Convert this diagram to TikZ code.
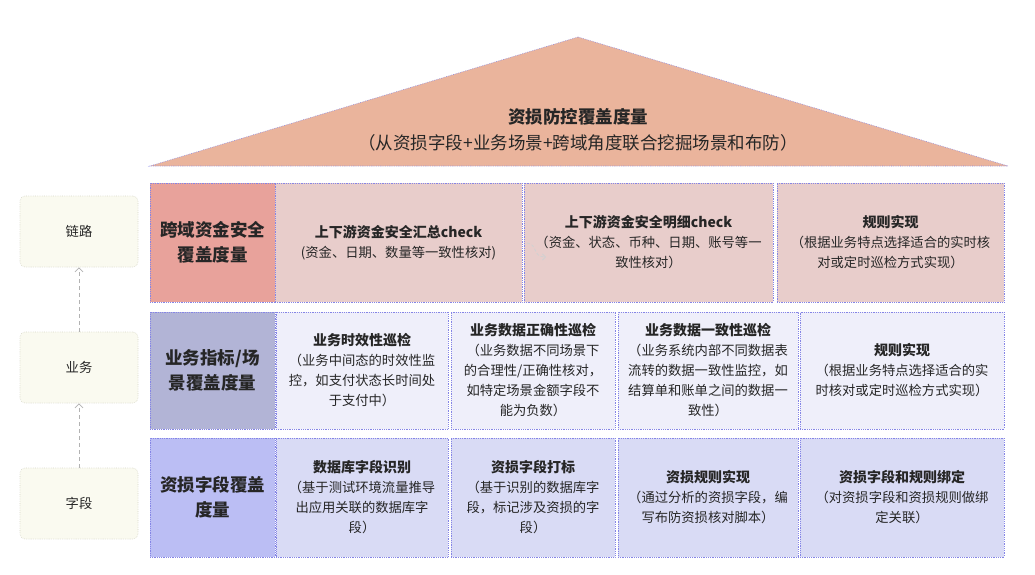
\documentclass[tikz,border=0pt]{standalone}
\usepackage{fontspec}
\setmainfont{Noto Sans CJK SC}
\usetikzlibrary{arrows.meta}
\definecolor{roof}{HTML}{EAB49C}
\definecolor{hA}{HTML}{E8A29B}
\definecolor{cA}{HTML}{E8CDCB}
\definecolor{hB}{HTML}{B2B4D6}
\definecolor{cB}{HTML}{EFEFFA}
\definecolor{hC}{HTML}{BBBEF4}
\definecolor{cC}{HTML}{D9DBF5}
\definecolor{bord}{HTML}{8585E6}
\definecolor{lbox}{HTML}{FAFAF0}
\definecolor{lbord}{HTML}{D6D6C6}
\definecolor{txt}{HTML}{262626}
\tikzset{
  cellbox/.style={draw=bord, line width=0.6pt, dash pattern=on 0.6pt off 1.2pt, inner sep=0pt, align=center, text=txt, font=\fontsize{13.3}{20}\selectfont},
  headbox/.style={cellbox, font=\fontsize{17.5}{25}\selectfont\bfseries},
  lvlbox/.style={draw=lbord, fill=lbox, line width=0.6pt, dash pattern=on 0.6pt off 1.2pt, rounded corners=5pt, minimum width=118pt, minimum height=71pt, text=txt, font=\fontsize{13.3}{16}\selectfont},
  uparrow/.style={draw=black!30, line width=0.8pt, dash pattern=on 4pt off 3pt, -{Straight Barb[length=4pt,width=8pt]}},
  faint/.style={draw=black!18, line width=0.8pt, dash pattern=on 3pt off 2pt, -{Straight Barb[length=3pt,width=6pt]}},
  roofline/.style={text=txt, font=\fontsize{17.5}{25}\selectfont}
}
\newcommand{\ttl}[1]{{\fontsize{14}{20}\selectfont\bfseries #1}}
\begin{document}
\begin{tikzpicture}[x=1pt,y=-1pt]
\useasboundingbox[fill=white] (0,0) rectangle (1035,575);
% roof
\draw[bord, line width=0.6pt, dash pattern=on 0.6pt off 1.2pt, fill=roof] (578,37) -- (1008,166) -- (150,166) -- cycle;
\node[roofline, font=\fontsize{17.5}{25}\selectfont\bfseries] (rooft) at (578,117) {资损防控覆盖度量};
\node[roofline] (roofs) at (578,143) {（从资损字段+业务场景+跨域角度联合挖掘场景和布防）};
% left level boxes
\node[lvlbox] (L1) at (79,231.5) {链路};
\node[lvlbox] (L2) at (79,367.5) {业务};
\node[lvlbox] (L3) at (79,503.5) {字段};
\draw[uparrow] (L3.north) -- (L2.south);
\draw[uparrow] (L2.north) -- (L1.south);
% row 1
\node[headbox, fill=hA, minimum width=125pt, minimum height=119pt] (H1) at (212.5,242.5) {跨域资金安全\\覆盖度量};
\node[cellbox, fill=cA, minimum width=247pt, minimum height=119pt] (c11) at (398.5,242.5) {\ttl{上下游资金安全汇总check}\\(资金、日期、数量等一致性核对)};
\node[cellbox, fill=cA, minimum width=249pt, minimum height=119pt] (c12) at (648.5,242.5) {\ttl{上下游资金安全明细check}\\（资金、状态、币种、日期、账号等一\\致性核对）};
\node[cellbox, fill=cA, minimum width=227pt, minimum height=119pt] (c13) at (890.5,242.5) {\ttl{规则实现}\\（根据业务特点选择适合的实时核\\对或定时巡检方式实现）};
\coordinate (fa1) at (527,243);
\coordinate (fa2) at (546,257);
\draw[faint] (fa1) .. controls (538,244) and (532,257) .. (fa2);
% row 2
\node[headbox, fill=hB, minimum width=125pt, minimum height=117pt] (H2) at (212.5,370.5) {业务指标/场\\景覆盖度量};
\node[cellbox, fill=cB, minimum width=172pt, minimum height=117pt] (c21) at (362,370.5) {\ttl{业务时效性巡检}\\（业务中间态的时效性监\\控，如支付状态长时间处\\于支付中）};
\node[cellbox, fill=cB, minimum width=164pt, minimum height=117pt] (c22) at (533,370.5) {\ttl{业务数据正确性巡检}\\（业务数据不同场景下\\的合理性/正确性核对，\\如特定场景金额字段不\\能为负数）};
\node[cellbox, fill=cB, minimum width=180pt, minimum height=117pt] (c23) at (708,370.5) {\ttl{业务数据一致性巡检}\\（业务系统内部不同数据表\\流转的数据一致性监控，如\\结算单和账单之间的数据一\\致性）};
\node[cellbox, fill=cB, minimum width=204pt, minimum height=117pt] (c24) at (902,370.5) {\ttl{规则实现}\\（根据业务特点选择适合的实\\时核对或定时巡检方式实现）};
% row 3
\node[headbox, fill=hC, minimum width=125pt, minimum height=119pt] (H3) at (212.5,497.5) {资损字段覆盖\\度量};
\node[cellbox, fill=cC, minimum width=172pt, minimum height=119pt] (c31) at (362,497.5) {\ttl{数据库字段识别}\\（基于测试环境流量推导\\出应用关联的数据库字\\段）};
\node[cellbox, fill=cC, minimum width=164pt, minimum height=119pt] (c32) at (533,497.5) {\ttl{资损字段打标}\\（基于识别的数据库字\\段，标记涉及资损的字\\段）};
\node[cellbox, fill=cC, minimum width=180pt, minimum height=119pt] (c33) at (708,497.5) {\ttl{资损规则实现}\\（通过分析的资损字段，编\\写布防资损核对脚本）};
\node[cellbox, fill=cC, minimum width=204pt, minimum height=119pt] (c34) at (902,497.5) {\ttl{资损字段和规则绑定}\\（对资损字段和资损规则做绑\\定关联）};
\end{tikzpicture}
\end{document}
